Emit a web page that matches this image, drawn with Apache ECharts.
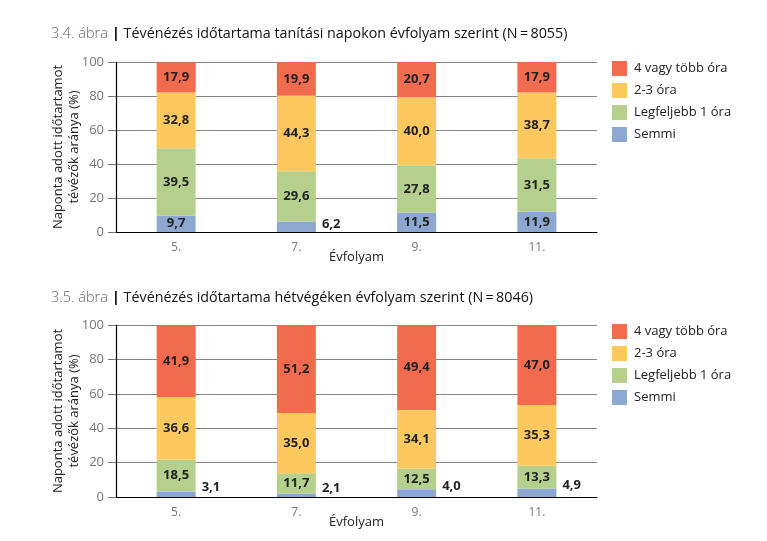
<!DOCTYPE html>
<html><head><meta charset="utf-8">
<script src="https://cdn.jsdelivr.net/npm/echarts@6/dist/echarts.min.js"></script>
<style>html,body{margin:0;padding:0;background:#fff}#c{width:767px;height:541px}</style>
</head><body><div id="c"></div>
<script>
const categories = ['5.', '7.', '9.', '11.'];
const seriesNames = ['4 vagy több óra', '2-3 óra', 'Legfeljebb 1 óra', 'Semmi'];
// Chart 3.4 (tanítási napok)
const weekday_semmi = [9.7, 6.2, 11.5, 11.9];
const weekday_legf1 = [39.5, 29.6, 27.8, 31.5];
const weekday_2_3 = [32.8, 44.3, 40.0, 38.7];
const weekday_4plus = [17.9, 19.9, 20.7, 17.9];
// Chart 3.5 (hétvégék)
const weekend_semmi = [3.1, 2.1, 4.0, 4.9];
const weekend_legf1 = [18.5, 11.7, 12.5, 13.3];
const weekend_2_3 = [36.6, 35.0, 34.1, 35.3];
const weekend_4plus = [41.9, 51.2, 49.4, 47.0];
const yTicks = [0, 20, 40, 60, 80, 100];
const title1 = ['3.4. ábra', 'Tévénézés időtartama tanítási napokon évfolyam szerint (N\u2009=\u20098055)'];
const title2 = ['3.5. ábra', 'Tévénézés időtartama hétvégéken évfolyam szerint (N\u2009=\u20098046)'];
const yName = 'Naponta adott időtartamot\ntévézők aránya (%)';
const xName = 'Évfolyam';

const colors = {'4 vagy több óra': '#F26B4F', '2-3 óra': '#FDC85E', 'Legfeljebb 1 óra': '#B5D08C', 'Semmi': '#8CA7D0'};
const FONT = '"Open Sans", "Noto Sans", sans-serif';
const fmt = v => v.toFixed(1).replace('.', ',');

const grids = [
  {left: 116, right: 170, top: 62, height: 170},
  {left: 116, right: 170, top: 325, height: 172}
];

function xAxis(i) {
  return {
    type: 'category', gridIndex: i, data: categories,
    axisLine: {lineStyle: {color: '#000', width: 1.2}},
    axisTick: {show: false},
    axisLabel: {color: '#777', fontSize: 12, fontFamily: FONT, margin: 10},
    name: xName, nameLocation: 'middle', nameGap: 19, nameMoveOverlap: false,
    nameTextStyle: {color: '#222', fontSize: 13, fontFamily: FONT}
  };
}
function yAxis(i) {
  return {
    type: 'value', gridIndex: i, min: 0, max: 100, interval: 20,
    axisLine: {show: true, lineStyle: {color: '#000', width: 1.2}},
    axisTick: {show: true, length: 8, lineStyle: {color: '#777'}},
    axisLabel: {color: '#777', fontSize: 13, fontFamily: FONT, margin: 12,
      formatter: v => yTicks.includes(v) ? String(v) : ''},
    splitLine: {show: true, lineStyle: {color: '#666', width: 0.8}},
    name: yName, nameLocation: 'middle', nameGap: 34, nameMoveOverlap: false,
    nameTextStyle: {color: '#222', fontSize: 13, fontFamily: FONT, lineHeight: 16}
  };
}
function mkSeries(name, values, gi, outsideOffset) {
  return {
    name, type: 'bar', stack: 's' + gi, xAxisIndex: gi, yAxisIndex: gi,
    barWidth: 39, itemStyle: {color: colors[name]},
    data: values.map(v => {
      const item = {value: v};
      if (v < 8) {
        item.label = {show: true, position: 'right', distance: 6, offset: [0, outsideOffset]};
      }
      return item;
    }),
    label: {show: true, position: 'inside', formatter: p => fmt(p.value),
      color: '#222', fontWeight: 'bold', fontSize: 13, fontFamily: FONT}
  };
}
function legend(top) {
  return {
    orient: 'vertical', left: 607, top: top, itemWidth: 15, itemHeight: 15, itemGap: 7,
    icon: 'rect', data: seriesNames, selectedMode: false,
    textStyle: {color: '#222', fontSize: 13, fontFamily: FONT, padding: [0, 0, 0, 2]}
  };
}
function title(t, top) {
  return {
    left: 46, top: top,
    text: '{a|' + t[0] + ' }{b||}{c| ' + t[1] + '}',
    textStyle: {rich: {
      a: {color: '#666', fontSize: 14.5, fontFamily: FONT, fontWeight: 300},
      b: {color: '#000', fontSize: 15, fontFamily: FONT, fontWeight: 'bold'},
      c: {color: '#111', fontSize: 14.3, fontFamily: FONT, fontWeight: 500}
    }}
  };
}

const chart = echarts.init(document.getElementById('c'), null, {renderer: 'canvas'});
chart.setOption({
  animation: false,
  backgroundColor: '#fff',
  title: [title(title1, 21), title(title2, 285)],
  legend: [legend(56), legend(319)],
  grid: grids,
  xAxis: [xAxis(0), xAxis(1)],
  yAxis: [yAxis(0), yAxis(1)],
  series: [
    mkSeries('Semmi', weekday_semmi, 0, -2),
    mkSeries('Legfeljebb 1 óra', weekday_legf1, 0, 0),
    mkSeries('2-3 óra', weekday_2_3, 0, 0),
    mkSeries('4 vagy több óra', weekday_4plus, 0, 0),
    mkSeries('Semmi', weekend_semmi, 1, -7),
    mkSeries('Legfeljebb 1 óra', weekend_legf1, 1, 0),
    mkSeries('2-3 óra', weekend_2_3, 1, 0),
    mkSeries('4 vagy több óra', weekend_4plus, 1, 0)
  ]
});
</script></body></html>
